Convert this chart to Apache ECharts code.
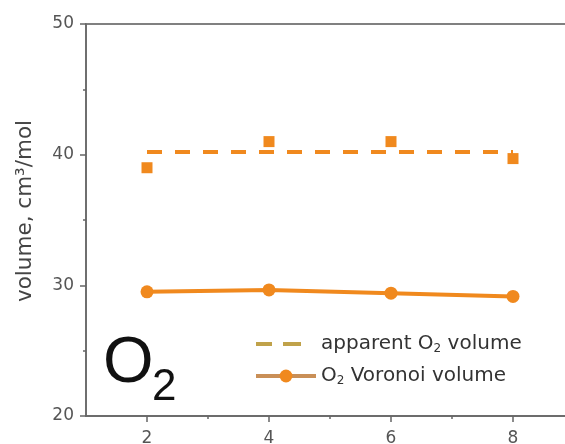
<!DOCTYPE html>
<html>
<head>
<meta charset="utf-8">
<script src="https://cdn.jsdelivr.net/npm/echarts@6/dist/echarts.min.js"></script>
<style>
  html, body { margin: 0; padding: 0; background: #ffffff; }
  #chart { width: 565px; height: 444px; }
</style>
</head>
<body>
<div id="chart"></div>
<script>
// Molar volume of O2 versus x
const xValues = [2, 4, 6, 8];
const apparentVolume = [39.0, 41.0, 41.0, 39.7];
const apparentMean = 40.2;
const voronoiVolume = [29.5, 29.65, 29.4, 29.15];
const xMajorTicks = [2, 4, 6, 8];
const xMinorTicks = [3, 5, 7];

const ORANGE = '#f0891e';
const FONT = 'DejaVu Sans, Verdana, sans-serif';
const BIG_FONT = 'Liberation Sans, Arial, sans-serif';

const chart = echarts.init(document.getElementById('chart'), null, { renderer: 'canvas' });

const apparentPoints = xValues.map((x, i) => [x, apparentVolume[i]]);
const voronoiPoints = xValues.map((x, i) => [x, voronoiVolume[i]]);
const meanLine = [[xValues[0], apparentMean], [xValues[xValues.length - 1], apparentMean]];

const subRich = {
  sub: { fontSize: 12, fontFamily: FONT, color: '#333', padding: [10, 0, 0, 0] }
};

chart.setOption({
  animation: false,
  backgroundColor: '#ffffff',
  grid: {
    left: 86, top: 24, width: 488, height: 392,
    outerBoundsMode: 'none',
    show: true, borderColor: '#808080', borderWidth: 1.8, backgroundColor: 'transparent'
  },
  xAxis: [
    {
      type: 'value', position: 'bottom', min: 1, max: 9,
      axisLine: { show: true, lineStyle: { color: '#666', width: 1.5 } },
      axisTick: { show: true, customValues: xMajorTicks, length: 6, lineStyle: { color: '#666', width: 1.5 } },
      axisLabel: { customValues: xMajorTicks, margin: 14, color: '#555', fontSize: 17, fontFamily: FONT },
      splitLine: { show: false }
    },
    {
      type: 'value', position: 'bottom', min: 1, max: 9,
      axisLine: { show: false },
      axisTick: { show: true, customValues: xMinorTicks, length: 3, lineStyle: { color: '#666', width: 1.5 } },
      axisLabel: { show: false },
      splitLine: { show: false }
    }
  ],
  yAxis: {
    type: 'value', min: 20, max: 50, interval: 10,
    name: 'volume, cm³/mol', nameLocation: 'middle', nameGap: 50,
    nameTextStyle: { color: '#444', fontSize: 21.5, fontFamily: FONT, padding: [0, 0, 0, 18] },
    axisLine: { show: true, lineStyle: { color: '#666', width: 1.5 } },
    axisTick: { show: true, length: 6, lineStyle: { color: '#666', width: 1.5 } },
    minorTick: { show: true, splitNumber: 2, length: 3, lineStyle: { color: '#666', width: 1.5 } },
    axisLabel: { margin: 12, color: '#555', fontSize: 17, fontFamily: FONT },
    splitLine: { show: false }
  },
  legend: {
    orient: 'vertical', left: 249, top: 329,
    itemWidth: 60, itemHeight: 16, itemGap: 11,
    data: [
      {
        name: 'apparent O₂ volume',
        itemStyle: { color: 'rgba(0,0,0,0)', borderWidth: 0 },
        lineStyle: { color: '#c0a24a', width: 4, type: [16, 11, 18, 40] }
      },
      {
        name: 'O₂ Voronoi volume',
        itemStyle: { color: ORANGE },
        lineStyle: { color: '#c98f57', width: 4 }
      }
    ],
    formatter: function (name) {
      return name === 'apparent O₂ volume' ? 'apparent O{sub|2} volume' : 'O{sub|2} Voronoi volume';
    },
    textStyle: { color: '#333', fontSize: 20, fontFamily: FONT, rich: subRich }
  },
  graphic: [
    { type: 'text', left: 103, top: 332, style: { text: 'O', fontSize: 65, fontFamily: BIG_FONT, fill: '#111' } },
    { type: 'text', left: 152, top: 366, style: { text: '2', fontSize: 44, fontFamily: BIG_FONT, fill: '#111' } }
  ],
  series: [
    {
      name: 'apparent O₂ volume', type: 'line', data: meanLine,
      symbol: 'none', z: 2,
      lineStyle: { color: ORANGE, width: 4, type: [15, 13] },
      itemStyle: { color: ORANGE }
    },
    {
      name: 'apparent points', type: 'scatter', data: apparentPoints,
      symbol: 'rect', symbolSize: 11, z: 3,
      itemStyle: { color: ORANGE, opacity: 1 }
    },
    {
      name: 'O₂ Voronoi volume', type: 'line', data: voronoiPoints,
      symbol: 'circle', symbolSize: 13, z: 3,
      lineStyle: { color: ORANGE, width: 4 },
      itemStyle: { color: ORANGE }
    }
  ]
});
</script>
</body>
</html>
